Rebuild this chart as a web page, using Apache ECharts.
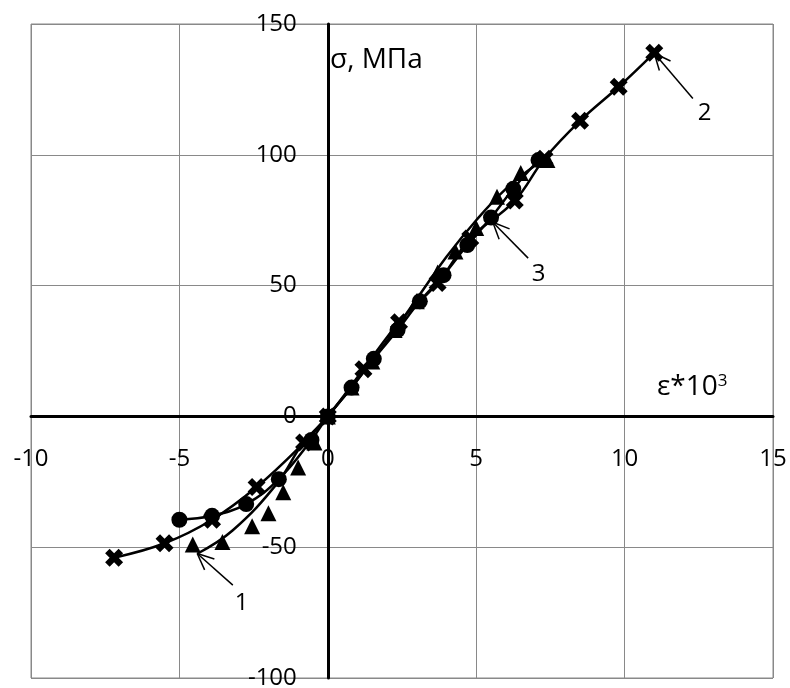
<!DOCTYPE html>
<html lang="ru">
<head>
<meta charset="UTF-8">
<title>σ–ε</title>
<script src="https://cdn.jsdelivr.net/npm/echarts@6/dist/echarts.min.js"></script>
<style>
  html, body { margin: 0; padding: 0; background: #fff; }
</style>
</head>
<body>
<div id="main" style="width:790px;height:688px;"></div>
<script>
// кривая 2 (крестики)
var crossX = [-7.2, -5.5, -3.9, -2.4, -0.8, 0, 1.2, 2.4, 3.7, 4.8, 6.3, 7.3, 8.5, 9.8, 11.0];
var crossY = [-54, -48.5, -39.5, -27, -10, 0, 18, 36, 51, 68, 82.5, 98.5, 113, 126, 139];
// кривая 3 (кружки)
var circX = [-5.0, -3.9, -2.75, -1.65, -0.55, 0, 0.8, 1.55, 2.35, 3.1, 3.9, 4.7, 5.5, 6.25, 7.1];
var circY = [-39.5, -38, -33.5, -24, -9, 0, 11, 22, 33, 44, 54, 65.5, 76, 87, 98];
// кривая 1 (треугольники) - точки
var triX = [-4.55, -3.55, -2.55, -2.0, -1.5, -1.0, -0.45, 0, 0.8, 1.5, 2.25, 3.0, 3.7, 4.3, 5.0, 5.7, 6.5, 7.4];
var triY = [-49, -48, -42, -37, -29, -19.5, -10, 0, 11, 21, 33, 44, 55, 63, 72, 84, 93, 98];
// кривая 1 - линия
var line1X = [-4.4, -3.2, -1.7, -0.85, 0, 1, 2, 3, 4, 5, 6, 7, 7.4];
var line1Y = [-52.5, -43.5, -25.5, -10.5, 0, 14, 29, 45, 61, 75, 87, 96, 98];

// выноски: [номер, подпись x, y, начало стрелки x, y, конец x, y]
var notes = [
    ['1', -2.9, -71.5, -3.2, -64.5, -4.4, -52.4],
    ['2', 12.7, 116, 12.3, 121.5, 11.0, 138.8],
    ['3', 7.1, 54.5, 6.75, 60.5, 5.56, 74.2]
];

function pairs(xs, ys) {
    var out = [];
    for (var i = 0; i < xs.length; i++) out.push([xs[i], ys[i]]);
    return out;
}

var font = '"Open Sans", "Noto Sans", sans-serif';
var crossPath = 'path://M2.5,0 L5,2.5 L7.5,0 L10,2.5 L7.5,5 L10,7.5 L7.5,10 L5,7.5 L2.5,10 L0,7.5 L2.5,5 L0,2.5 Z';

var W = 790, H = 688;
var gl = 31, gr = 17, gt = 24, gb = 10;
var gw = W - gl - gr, gh = H - gt - gb;
// смещения осей, чтобы подписи стояли на нулевых линиях
var xOff = -gh * (0 - (-100)) / 250;
var yOff = -gw * (0 - (-10)) / 25;

var myChart = echarts.init(document.getElementById('main'));
myChart.setOption({
    animation: false,
    grid: { left: gl, right: gr, top: gt, bottom: gb, containLabel: false, outerBoundsMode: 'none',
            show: true, borderColor: '#898989', borderWidth: 1 },
    xAxis: {
        type: 'value', min: -10, max: 15, interval: 5, position: 'bottom', offset: xOff,
        axisLine: { onZero: false, lineStyle: { color: '#000', width: 3 } },
        axisTick: { show: false },
        axisLabel: { margin: 31, fontSize: 24, color: '#000', fontFamily: font },
        splitLine: { lineStyle: { color: '#898989', width: 1 } }
    },
    yAxis: {
        type: 'value', min: -100, max: 150, interval: 50, position: 'left', offset: yOff,
        axisLine: { onZero: false, lineStyle: { color: '#000', width: 3 } },
        axisTick: { show: false },
        axisLabel: { margin: 31, fontSize: 24, color: '#000', fontFamily: font },
        splitLine: { lineStyle: { color: '#898989', width: 1 } }
    },
    series: [
        {
            type: 'line', data: pairs(line1X, line1Y), smooth: 0.4, showSymbol: false,
            lineStyle: { color: '#000', width: 2.5 }, z: 2
        },
        {
            type: 'scatter', data: pairs(triX, triY), symbol: 'triangle', symbolSize: 16,
            itemStyle: { color: '#000', opacity: 1 }, z: 4
        },
        {
            type: 'line', data: pairs(circX, circY), smooth: 0.4, symbol: 'circle', symbolSize: 16,
            lineStyle: { color: '#000', width: 2.5 }, itemStyle: { color: '#000' }, z: 3
        },
        {
            type: 'line', data: pairs(crossX, crossY), smooth: 0.4, symbol: crossPath, symbolSize: 18,
            lineStyle: { color: '#000', width: 2.5 }, itemStyle: { color: '#000' }, z: 3
        }
    ]
});

// подписи осей и выноски со стрелками
var g = [
    { type: 'text', left: 330, top: 46, style: { text: 'σ, МПа', fontSize: 28, fontFamily: font, fontWeight: 'normal', fill: '#000' } },
    { type: 'text', left: 657, top: 373, style: {
        text: '{a|ε*10}{s|3}', fill: '#000',
        rich: { a: { fontSize: 28, fontFamily: font, fontWeight: 'normal', color: '#000' },
                s: { fontSize: 17, fontFamily: font, fontWeight: 'normal', color: '#000', verticalAlign: 'top', padding: [0, 0, 12, 0] } }
    } }
];
notes.forEach(function (n) {
    var lab = myChart.convertToPixel({ gridIndex: 0 }, [n[1], n[2]]);
    var a = myChart.convertToPixel({ gridIndex: 0 }, [n[3], n[4]]);
    var b = myChart.convertToPixel({ gridIndex: 0 }, [n[5], n[6]]);
    var ang = Math.atan2(a[1] - b[1], a[0] - b[0]);
    var L = 18, sp = 0.42;
    var h1 = [b[0] + L * Math.cos(ang + sp), b[1] + L * Math.sin(ang + sp)];
    var h2 = [b[0] + L * Math.cos(ang - sp), b[1] + L * Math.sin(ang - sp)];
    var st = { stroke: '#000', lineWidth: 1.5 };
    g.push({ type: 'line', shape: { x1: a[0], y1: a[1], x2: b[0], y2: b[1] }, style: st, z: 10 });
    g.push({ type: 'line', shape: { x1: b[0], y1: b[1], x2: h1[0], y2: h1[1] }, style: st, z: 10 });
    g.push({ type: 'line', shape: { x1: b[0], y1: b[1], x2: h2[0], y2: h2[1] }, style: st, z: 10 });
    g.push({ type: 'text', x: lab[0], y: lab[1], style: {
        text: n[0], fontSize: 24, fontFamily: font, fontWeight: 'normal', fill: '#000', align: 'center', verticalAlign: 'middle' }, z: 10 });
});
myChart.setOption({ graphic: g });
</script>
</body>
</html>
